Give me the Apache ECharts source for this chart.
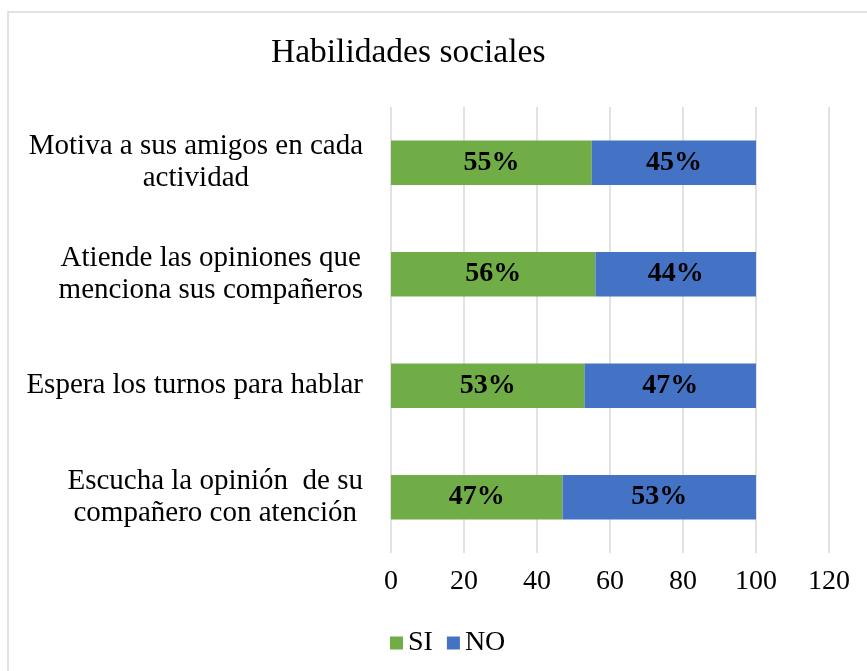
<!DOCTYPE html>
<html>
<head>
<meta charset="utf-8">
<style>
  html, body { margin: 0; padding: 0; background: #fff; }
  #chart { width: 867px; height: 671px; }
</style>
<script src="https://cdn.jsdelivr.net/npm/echarts@6/dist/echarts.min.js"></script>
</head>
<body>
<div id="chart"></div>
<script>
var categories = [
  "Escucha la opinión  de su\ncompañero con atención",
  "Espera los turnos para hablar",
  "Atiende las opiniones que\nmenciona sus compañeros",
  "Motiva a sus amigos en cada\nactividad"
];
var siValues = [47, 53, 56, 55];
var noValues = [53, 47, 44, 45];

var serif = "'Liberation Serif', 'Times New Roman', serif";

var chart = echarts.init(document.getElementById("chart"));

var barLabel = {
  show: true,
  position: "inside",
  formatter: "{c}%",
  color: "#000",
  fontFamily: serif,
  fontWeight: "bold",
  fontSize: 28
};

chart.setOption({
  animation: false,
  textStyle: { fontFamily: serif, color: "#000" },
  title: {
    text: "Habilidades sociales",
    left: 266,
    top: 31,
    textStyle: { fontFamily: serif, fontWeight: "normal", fontSize: 33.5, color: "#000" }
  },
  legend: {
    data: ["SI", "NO"],
    left: 385,
    top: 624,
    icon: "rect",
    itemWidth: 13,
    itemHeight: 13,
    itemGap: 14,
    textStyle: { fontFamily: serif, fontSize: 28, color: "#000", padding: [0, 0, 0, 0] }
  },
  graphic: [
    {
      type: "rect",
      shape: { x: 8, y: 12, width: 900, height: 700 },
      style: { fill: "none", stroke: "#d9d9d9", lineWidth: 1.5 },
      silent: true
    }
  ],
  grid: { left: 391, right: 38, top: 107, bottom: 118, containLabel: false },
  xAxis: {
    type: "value",
    min: 0,
    max: 120,
    interval: 20,
    axisLine: { show: false },
    axisTick: { show: false },
    splitLine: { show: true, lineStyle: { color: "#d9d9d9", width: 1.5 } },
    axisLabel: { fontFamily: serif, fontSize: 28, color: "#000", margin: 15 }
  },
  yAxis: {
    type: "category",
    data: categories,
    axisLine: { show: false },
    axisTick: { show: false },
    axisLabel: {
      margin: 28,
      formatter: function (v) {
        return v.split("\n").map(function (l) { return "{c|" + l + "}"; }).join("\n");
      },
      rich: {
        c: { align: "center", fontFamily: serif, fontSize: 29, lineHeight: 32, color: "#000" }
      }
    }
  },
  series: [
    {
      name: "SI",
      type: "bar",
      stack: "total",
      data: siValues,
      barCategoryGap: "60%",
      itemStyle: { color: "#70ad47" },
      label: barLabel
    },
    {
      name: "NO",
      type: "bar",
      stack: "total",
      data: noValues,
      itemStyle: { color: "#4472c4" },
      label: barLabel
    }
  ]
});
</script>
</body>
</html>
